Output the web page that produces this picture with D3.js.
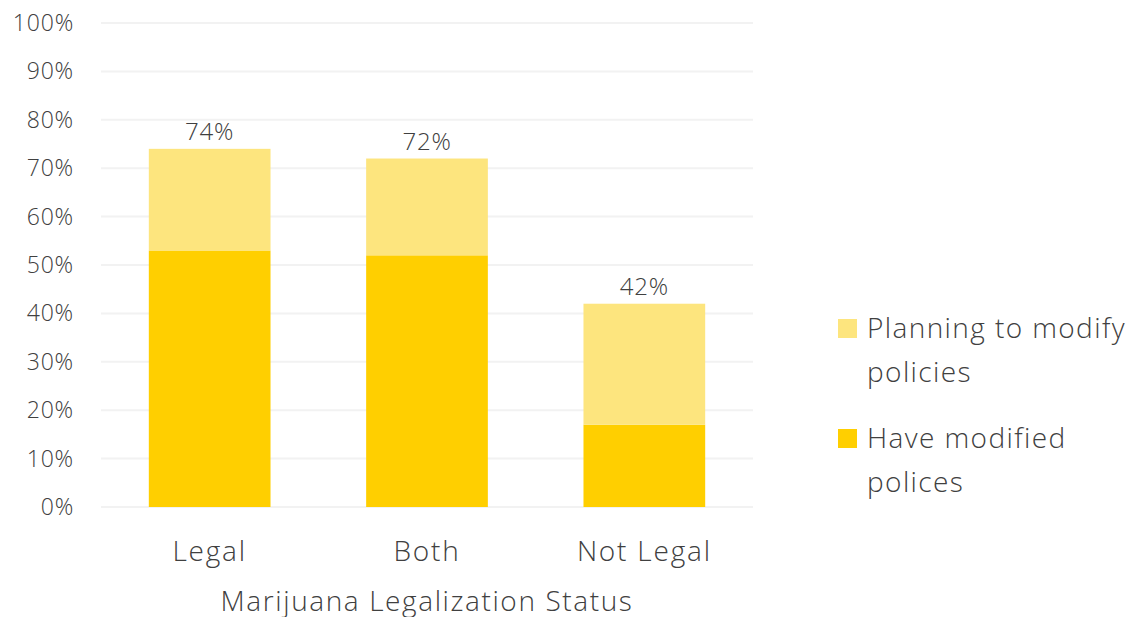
<!DOCTYPE html>
<html>
<head>
<meta charset="utf-8">
<script src="https://cdn.jsdelivr.net/npm/d3@7"></script>
<style>
  body { margin: 0; background: #fff; }
  svg text { font-family: "Open Sans", sans-serif; font-weight: 300; fill: #404040; }
</style>
</head>
<body>
<div id="chart"></div>
<script>
// chart data
var categories = ["Legal", "Both", "Not Legal"];
var haveModified = [53, 52, 17];
var planningToModify = [21, 20, 25];
var totals = [74, 72, 42];
var yTicks = [0, 10, 20, 30, 40, 50, 60, 70, 80, 90, 100];
var seriesNames = ["Planning to modify policies", "Have modified polices"];

var width = 1138,
    height = 617,
    margin = { top: 23, right: 385, bottom: 110, left: 101 },
    // light yellow for planning, full yellow for modified
    colours = ["#FDE57E", "#FFCF00"];

var chartWidth = width - margin.left - margin.right,
    chartHeight = height - margin.top - margin.bottom;

var svg = d3.select("#chart").append("svg")
    .attr("width", width)
    .attr("height", height);

var g = svg.append("g")
    .attr("transform", "translate(" + margin.left + "," + margin.top + ")");

var x = d3.scaleBand().domain(categories).range([0, chartWidth]).paddingInner(0.44).paddingOuter(0.22);
var y = d3.scaleLinear().domain([0, 100]).range([chartHeight, 0]);

// gridlines
g.selectAll(".grid")
    .data(yTicks)
    .enter().append("line")
    .attr("x1", 0)
    .attr("x2", chartWidth)
    .attr("y1", function (d) { return y(d); })
    .attr("y2", function (d) { return y(d); })
    .style("stroke", "#F2F2F2")
    .style("stroke-width", 2);

// y tick labels
g.selectAll(".ytick")
    .data(yTicks)
    .enter().append("text")
    .attr("x", -27)
    .attr("y", function (d) { return y(d); })
    .attr("dy", "0.35em")
    .attr("text-anchor", "end")
    .style("font-size", "23px")
    .style("letter-spacing", "0.8px")
    .text(function (d) { return d + "%"; });

// stacked bars
var stackData = categories.map(function (c, i) {
    return { name: c, have: haveModified[i], plan: planningToModify[i], total: totals[i] };
});

g.selectAll(".have")
    .data(stackData)
    .enter().append("rect")
    .attr("x", function (d) { return x(d.name); })
    .attr("width", x.bandwidth())
    .attr("y", function (d) { return y(d.have); })
    .attr("height", function (d) { return chartHeight - y(d.have); })
    .style("fill", colours[1]);

g.selectAll(".plan")
    .data(stackData)
    .enter().append("rect")
    .attr("x", function (d) { return x(d.name); })
    .attr("width", x.bandwidth())
    .attr("y", function (d) { return y(d.have + d.plan); })
    .attr("height", function (d) { return y(d.have) - y(d.have + d.plan); })
    .style("fill", colours[0]);

// total labels
g.selectAll(".total")
    .data(stackData)
    .enter().append("text")
    .attr("x", function (d) { return x(d.name) + x.bandwidth() / 2; })
    .attr("y", function (d) { return y(d.have + d.plan) - 9; })
    .attr("text-anchor", "middle")
    .style("font-size", "24px")
    .style("letter-spacing", "0.8px")
    .text(function (d) { return d.total + "%"; });

// category labels
g.selectAll(".cat")
    .data(categories)
    .enter().append("text")
    .attr("x", function (d) { return x(d) + x.bandwidth() / 2; })
    .attr("y", chartHeight + 54)
    .attr("text-anchor", "middle")
    .style("font-size", "28px")
    .style("letter-spacing", "1.8px")
    .text(function (d) { return d; });

// axis title
g.append("text")
    .attr("x", chartWidth / 2)
    .attr("y", chartHeight + 104)
    .attr("text-anchor", "middle")
    .style("font-size", "28px")
    .style("letter-spacing", "1.6px")
    .text("Marijuana Legalization Status");

// legend
var legendLines = [["Planning to modify", "policies"], ["Have modified", "polices"]];
var legend = svg.append("g").attr("transform", "translate(838,306)");

legendLines.forEach(function (lines, i) {
    var ly = i * 110;
    legend.append("rect")
        .attr("x", 0)
        .attr("y", ly + 13)
        .attr("width", 19)
        .attr("height", 19)
        .style("fill", colours[i]);
    var t = legend.append("text")
        .attr("x", 29)
        .attr("y", ly + 32)
        .style("font-size", "28px")
        .style("letter-spacing", "1.4px");
    lines.forEach(function (line, j) {
        t.append("tspan")
            .attr("x", 29)
            .attr("dy", j === 0 ? 0 : 44)
            .text(line);
    });
});
</script>
</body>
</html>
